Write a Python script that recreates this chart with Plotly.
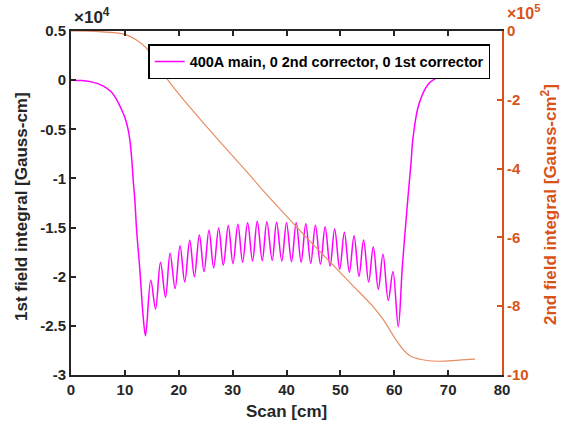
import plotly.graph_objects as go

# ---- data ----
# 1st field integral, units of 1e4 Gauss-cm
entry_x = [0, 2, 4, 6, 7.5, 8.5, 9.3, 10.0, 10.6, 10.95, 11.3, 11.55, 11.85, 12.17, 12.78, 13.4]
entry_y = [0, -0.004, -0.02, -0.06, -0.12, -0.2, -0.29, -0.38, -0.5, -0.62, -0.82, -1.02, -1.22, -1.52, -1.93, -2.41]

trough_x = [13.83, 15.69, 17.54, 19.32, 21.11, 22.90, 24.69, 26.48, 28.27, 30.06, 31.85, 33.70, 35.50,
            37.35, 39.13, 40.93, 42.72, 44.50, 46.30, 48.09, 49.88, 51.67, 53.46, 55.25, 57.04, 58.89, 60.74]
trough_y = [-2.60, -2.328, -2.209, -2.121, -2.053, -2.0, -1.948, -1.911, -1.884, -1.867, -1.853, -1.840, -1.837,
            -1.835, -1.840, -1.847, -1.853, -1.864, -1.874, -1.894, -1.925, -1.955, -1.996, -2.053, -2.128, -2.243, -2.508]
peak_x = [14.81, 16.61, 18.39, 20.24, 22.04, 23.83, 25.61, 27.41, 29.20, 30.98, 32.78, 34.57, 36.35,
          38.15, 40.0, 41.8, 43.58, 45.37, 47.17, 48.94, 50.74, 52.54, 54.31, 56.11, 57.91, 59.76]
peak_y = [-2.033, -1.853, -1.762, -1.684, -1.630, -1.575, -1.528, -1.504, -1.480, -1.467, -1.450, -1.436, -1.440,
          -1.446, -1.450, -1.450, -1.460, -1.477, -1.491, -1.514, -1.548, -1.582, -1.626, -1.694, -1.772, -1.948]

exit_x = [61.5, 62.5, 63.1, 63.5, 64.6, 66.5, 69.6, 72.3, 75.0]
exit_y = [-1.90, -1.22, -0.85, -0.58, -0.24, -0.03, 0.07, 0.12, 0.13]

# 2nd field integral, units of 1e5 Gauss-cm^2
second_x = [0, 4, 8, 10, 12, 14, 16, 18, 20, 24, 28, 32, 36, 40, 44, 48, 52, 56, 58, 60, 61.5, 63, 65, 68, 72, 75]
second_y = [0, -0.01, -0.05, -0.1, -0.25, -0.5, -0.98, -1.43, -1.83, -2.57, -3.28, -3.98, -4.7, -5.38, -6.05,
            -6.7, -7.35, -8.0, -8.4, -8.9, -9.23, -9.45, -9.55, -9.6, -9.57, -9.54]

x_ticks = [0, 10, 20, 30, 40, 50, 60, 70, 80]
y1_ticks = [0.5, 0, -0.5, -1, -1.5, -2, -2.5, -3]
y1_labels = ["0.5", "0", "-0.5", "-1", "-1.5", "-2", "-2.5", "-3"]
y2_ticks = [0, -2, -4, -6, -8, -10]
y2_labels = ["0", "-2", "-4", "-6", "-8", "-10"]

legend_label = "400A main, 0 2nd corrector, 0 1st corrector"

# assemble first-integral curve from extrema in x order
osc = sorted(list(zip(trough_x, trough_y)) + list(zip(peak_x, peak_y)))
mag_x = entry_x + [p[0] for p in osc] + exit_x
mag_y = entry_y + [p[1] for p in osc] + exit_y

DARK = "#262626"
ORANGE = "#D95319"
FONT = "Liberation Sans"

fig = go.Figure()
fig.add_trace(go.Scatter(x=mag_x, y=mag_y, mode="lines", name=legend_label,
                         line=dict(color="#FF00FF", width=1.5, shape="spline", smoothing=1.0),
                         yaxis="y"))
fig.add_trace(go.Scatter(x=second_x, y=second_y, mode="lines", showlegend=False,
                         line=dict(color="rgb(232,140,100)", width=1.2, shape="spline"),
                         yaxis="y2"))

tickfont = dict(family=FONT, size=15, color=DARK, weight="bold")
fig.update_layout(
    width=563, height=425,
    margin=dict(l=71, r=61, t=31, b=50),
    paper_bgcolor="white", plot_bgcolor="white",
    showlegend=True,
    legend=dict(x=0.179, y=0.962, xanchor="left", yanchor="top",
                bgcolor="white", bordercolor="black", borderwidth=1.5,
                font=dict(family=FONT, size=14.5, color="black", weight="bold"),
                itemwidth=30, tracegroupgap=0),
    xaxis=dict(range=[0, 80], tickvals=x_ticks, ticktext=[str(v) for v in x_ticks],
               showline=True, linecolor=DARK, linewidth=2, mirror="ticks",
               ticks="inside", ticklen=5, tickwidth=1.5, tickcolor=DARK,
               showgrid=False, zeroline=False, tickfont=tickfont),
    yaxis=dict(range=[-3, 0.5], tickvals=y1_ticks, ticktext=y1_labels,
               showline=True, linecolor=DARK, linewidth=2, mirror=False,
               ticks="inside", ticklen=5, tickwidth=1.5, tickcolor=DARK,
               showgrid=False, zeroline=False, tickfont=tickfont),
    yaxis2=dict(range=[-10, 0], tickvals=y2_ticks, ticktext=y2_labels, overlaying="y", side="right",
                showline=True, linecolor=ORANGE, linewidth=2,
                ticks="inside", ticklen=5, tickwidth=1.5, tickcolor=ORANGE,
                showgrid=False, zeroline=False,
                tickfont=dict(family=FONT, size=15, color=ORANGE, weight="bold")),
)

ann = [
    dict(text="×10<sup>4</sup>", x=72, y=16, color=DARK, rot=0, size=17, xa="left"),
    dict(text="×10<sup>5</sup>", x=505, y=12, color=ORANGE, rot=0, size=16, xa="left"),
    dict(text="1st field integral [Gauss-cm]", x=21, y=207, color=DARK, rot=-90, size=17, xa="center"),
    dict(text="2nd field integral [Gauss-cm<sup>2</sup>]", x=549, y=205, color=ORANGE, rot=-90, size=17, xa="center"),
    dict(text="Scan [cm]", x=286, y=411, color=DARK, rot=0, size=17, xa="center"),
]
for a in ann:
    fig.add_annotation(text=a["text"], xref="paper", yref="paper",
                       x=(a["x"] - 71) / 431, y=1 - (a["y"] - 31) / 344,
                       xanchor=a["xa"], yanchor="middle", showarrow=False, textangle=a["rot"],
                       font=dict(family=FONT, size=a["size"], color=a["color"], weight="bold"))

fig.write_html("out.html")
